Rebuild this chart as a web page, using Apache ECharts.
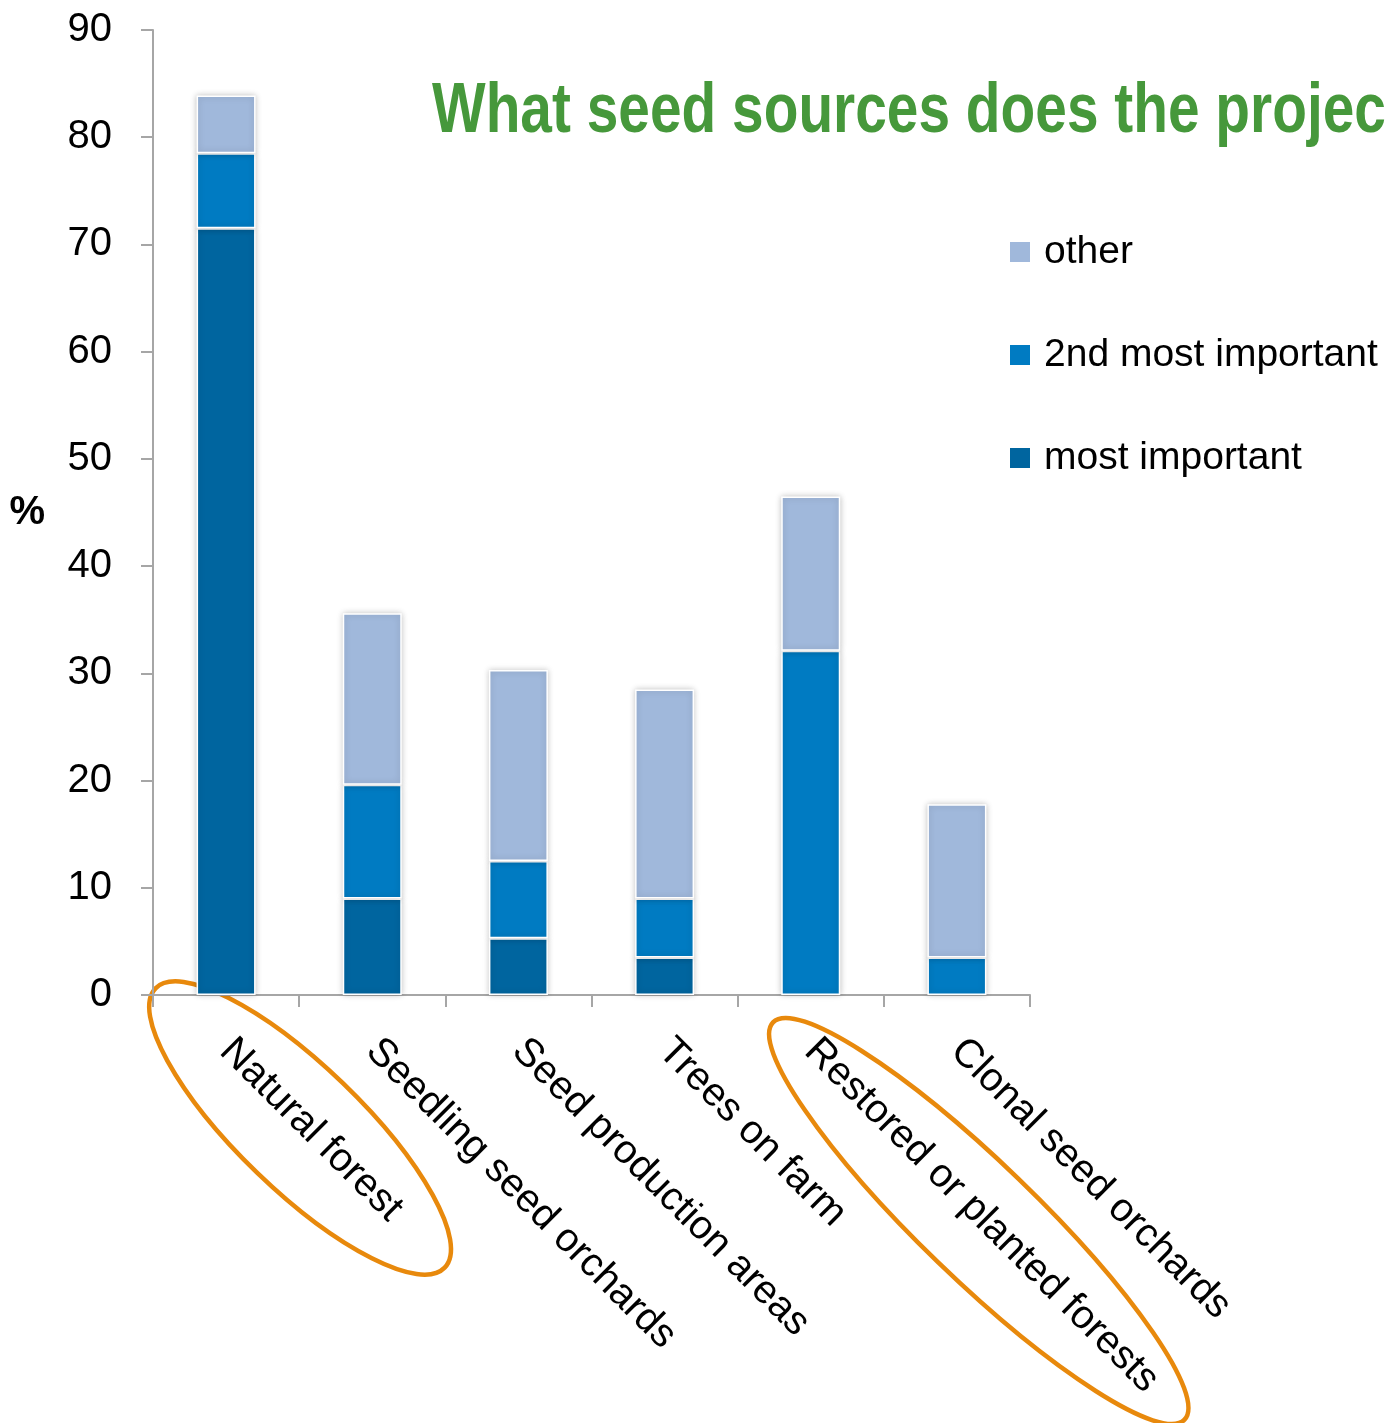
<!DOCTYPE html>
<html>
<head>
<meta charset="utf-8">
<script src="https://cdn.jsdelivr.net/npm/echarts@6/dist/echarts.min.js"></script>
<style>
  html, body { margin: 0; padding: 0; background: #fff; }
  #chart { width: 1385px; height: 1423px; }
</style>
</head>
<body>
<div id="chart"></div>
<script>
// Seed sources used by projects, share of respondents (%)
const categories = [
  'Natural forest',
  'Seedling seed orchards',
  'Seed production areas',
  'Trees on farm',
  'Restored or planted forests',
  'Clonal seed orchards'
];
const mostImportant = [71.5, 9.0, 5.3, 3.5, 0, 0];
const secondMost    = [7.0, 10.6, 7.2, 5.5, 32.1, 3.5];
const otherSource   = [5.4, 16.0, 17.8, 19.5, 14.4, 14.3];
const yTicks = { min: 0, max: 90, interval: 10 };
const titleText = 'What seed sources does the projec';
// categories whose labels are ringed
const highlighted = ['Natural forest', 'Restored or planted forests'];

const FONT = '"Liberation Sans", Arial, sans-serif';
const COLORS = { most: '#00659f', second: '#007bc2', other: '#a0b8db' };

const chart = echarts.init(document.getElementById('chart'), null, { renderer: 'canvas' });

function barSeries(name, values, color) {
  return {
    name: name,
    type: 'bar',
    stack: 'total',
    barWidth: 59,
    data: values.map(v => (v === 0 ? null : v)),
    itemStyle: {
      color: color,
      borderColor: '#ffffff',
      borderWidth: 1.5,
      shadowBlur: 6,
      shadowColor: 'rgba(0,0,0,0.22)'
    },
    emphasis: { disabled: true }
  };
}

chart.setOption({
  animation: false,
  backgroundColor: '#ffffff',
  grid: { left: 153, right: 355, top: 30, bottom: 428, containLabel: false },
  legend: {
    orient: 'vertical',
    left: 1008,
    top: 232,
    padding: 0,
    itemWidth: 22,
    itemHeight: 22,
    itemGap: 63,
    icon: 'rect',
    selectedMode: false,
    data: ['other', '2nd most important', 'most important'],
    textStyle: { fontFamily: FONT, fontSize: 39, color: '#000', lineHeight: 40, padding: [0, 0, 0, 8] }
  },
  xAxis: {
    type: 'category',
    data: categories,
    axisLine: { lineStyle: { color: '#a6a6a6', width: 2 } },
    axisTick: { show: true, length: 12, lineStyle: { color: '#a6a6a6', width: 2 } },
    axisLabel: {
      interval: 0,
      rotate: -45,
      margin: 50,
      fontFamily: FONT,
      fontSize: 40,
      color: '#000'
    }
  },
  yAxis: {
    type: 'value',
    min: yTicks.min,
    max: yTicks.max,
    interval: yTicks.interval,
    name: '%',
    nameLocation: 'middle',
    nameRotate: 0,
    nameGap: 108,
    nameTextStyle: {
      fontFamily: FONT, fontSize: 40, fontWeight: 'bold', color: '#000',
      lineHeight: 40, padding: [18, 0, 0, 0]
    },
    axisLine: { show: true, lineStyle: { color: '#a6a6a6', width: 2 } },
    axisTick: { show: true, length: 12, lineStyle: { color: '#a6a6a6', width: 2 } },
    splitLine: { show: false },
    axisLabel: { margin: 41, fontFamily: FONT, fontSize: 40, color: '#000' }
  },
  series: [
    barSeries('most important', mostImportant, COLORS.most),
    barSeries('2nd most important', secondMost, COLORS.second),
    barSeries('other', otherSource, COLORS.other)
  ]
});

// Title and the orange rings around the highlighted category labels
const ringSpecs = {
  'Natural forest': { dx: 74, dy: 133, rx: 201, ry: 62 },
  'Restored or planted forests': { dx: 168, dy: 226, rx: 286, ry: 58 }
};
const graphics = [{
  type: 'text',
  x: 432,
  y: 113,
  scaleX: 0.812,
  silent: true,
  style: {
    text: titleText,
    font: 'bold 70px ' + FONT,
    fill: '#46983b',
    verticalAlign: 'middle',
    align: 'left'
  }
}];
const axisY = chart.convertToPixel({ yAxisIndex: 0 }, 0);
highlighted.forEach(cat => {
  const spec = ringSpecs[cat];
  const cx = chart.convertToPixel({ xAxisIndex: 0 }, cat);
  graphics.push({
    type: 'ellipse',
    x: cx + spec.dx,
    y: axisY + spec.dy,
    rotation: -44 * Math.PI / 180,
    silent: true,
    shape: { cx: 0, cy: 0, rx: spec.rx, ry: spec.ry },
    style: { fill: 'none', stroke: '#e8890c', lineWidth: 4.5 }
  });
});
chart.setOption({ graphic: graphics });
</script>
</body>
</html>
